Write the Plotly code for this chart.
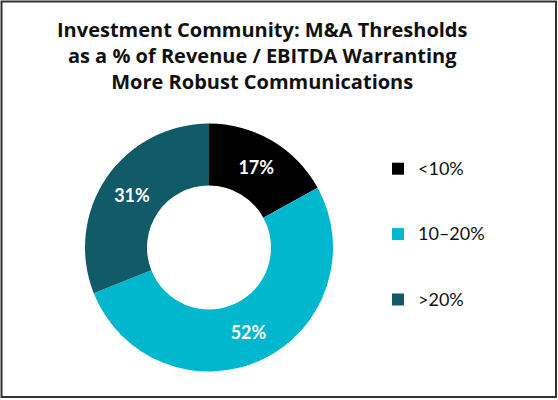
import plotly.graph_objects as go

categories = ["<10%", "10–20%", ">20%"]
values = [17, 52, 31]
colors = ["#000000", "#00B7CD", "#115A67"]
title_lines = ["Investment Community: M&A Thresholds",
               "as a % of Revenue / EBITDA Warranting",
               "More Robust Communications"]

# pad legend labels with blank lines to reproduce the wide item spacing
legend_labels = [" <br><span style='font-size:18px'>" + c + "</span><br> " for c in categories]

W, H = 558, 400

fig = go.Figure(go.Pie(
    labels=legend_labels,
    values=values,
    marker=dict(colors=colors, line=dict(width=0)),
    hole=0.5,
    sort=False,
    direction="clockwise",
    rotation=0,
    texttemplate="%{value}%",
    textposition="inside",
    insidetextorientation="horizontal",
    textfont=dict(family="Lato", size=18, color="white", weight="bold"),
    hoverinfo="skip",
    domain=dict(x=[(209 - 124) / W, (209 + 124) / W],
                y=[(H - 371.5) / H, (H - 123.5) / H]),
))

fig.update_layout(
    width=W, height=H,
    margin=dict(l=0, r=0, t=0, b=0),
    paper_bgcolor="white",
    plot_bgcolor="white",
    annotations=[dict(text="<br>".join(title_lines), x=262 / W, xref="paper",
                      y=1 - 14 / H, yref="paper", xanchor="center", yanchor="top",
                      showarrow=False, align="center",
                      font=dict(family="Open Sans", size=20, color="#111111", weight="bold"))],
    showlegend=True,
    legend=dict(x=378 / W, y=1 - 131 / H, xanchor="left", yanchor="top",
                font=dict(family="Lato", size=16, color="#111111"),
                bgcolor="rgba(0,0,0,0)", valign="middle"),
    shapes=[dict(type="rect", xref="paper", yref="paper", x0=1.5 / W, x1=556 / W,
                 y0=(H - 397) / H, y1=(H - 1.5) / H, line=dict(color="#333333", width=2))],
)

fig.write_html("out.html", post_script="document.body.style.margin='0px';",
               config={"displayModeBar": False})
